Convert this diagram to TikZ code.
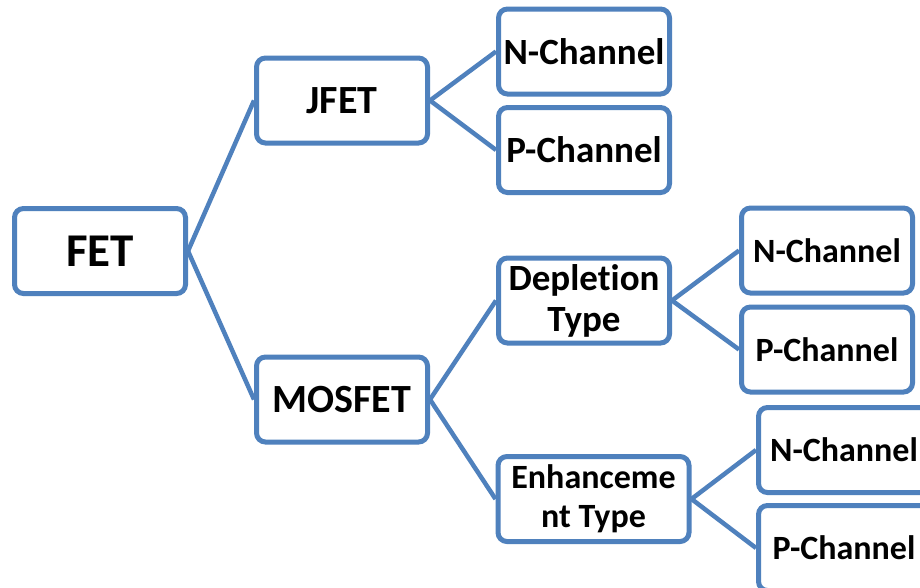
\documentclass[tikz,border=0pt]{standalone}
\usepackage{fontspec}
\setmainfont{Carlito}[Ligatures={NoCommon}]
\definecolor{boxblue}{HTML}{4F81BD}
\begin{document}
\begin{tikzpicture}[x=1pt,y=-1pt,
  box/.style={draw=boxblue, line width=5pt, rounded corners=9pt, fill=white,
    inner sep=0pt, minimum width=171pt, minimum height=85pt, align=center, text=black},
  link/.style={draw=boxblue, line width=4.5pt},
  fA/.style={font=\fontsize{47}{52}\bfseries\selectfont},
  fB/.style={font=\fontsize{40}{46}\bfseries\selectfont},
  fC/.style={font=\fontsize{37}{41}\bfseries\selectfont},
  fD/.style={font=\fontsize{34}{39}\bfseries\selectfont}]
\useasboundingbox (0,0) rectangle (920,587);
\clip (0,0) rectangle (920,587);
\fill[white] (0,0) rectangle (920,587);
\node[box,fA] (fet) at (100,251) {FET};
\node[box,fB] (jfet) at (342,100.5) {JFET};
\node[box,fB] (mos) at (342,399.5) {MOSFET};
\node[box,fC] (n1) at (584,51.5) {N-Channel};
\node[box,fC] (p1) at (584,150) {P-Channel};
\node[box,fC] (dep) at (584,300.5) {Depletion\\Type};
\node[box,fD,minimum width=191pt] (enh) at (593.5,499) {Enhanceme\\nt Type};
\node[box,fD] (n2) at (827,250.5) {N-Channel};
\node[box,fD] (p2) at (827,349.5) {P-Channel};
\node[box,fD] (n3) at (844,450) {N-Channel};
\node[box,fD] (p3) at (844,548) {P-Channel};
\draw[link] (fet.east) -- (jfet.west);
\draw[link] (fet.east) -- (mos.west);
\draw[link] (jfet.east) -- (n1.west);
\draw[link] (jfet.east) -- (p1.west);
\draw[link] (mos.east) -- (dep.west);
\draw[link] (mos.east) -- (enh.west);
\draw[link] (dep.east) -- (n2.west);
\draw[link] (dep.east) -- (p2.west);
\draw[link] (enh.east) -- (n3.west);
\draw[link] (enh.east) -- (p3.west);
\end{tikzpicture}
\end{document}
